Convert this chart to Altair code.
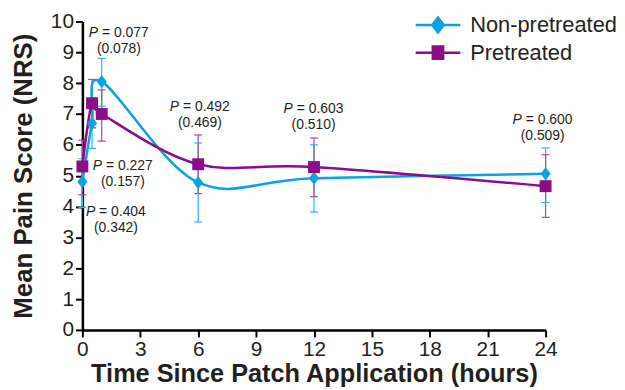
import altair as alt
import pandas as pd

# ---- data ----
hours = [0, 0.5, 1, 6, 12, 24]
series_names = ["Non-pretreated", "Pretreated"]
non_mean = [4.80, 6.70, 8.05, 4.78, 4.92, 5.06]
non_lo = [3.97, 5.88, 7.25, 3.50, 3.82, 4.13]
non_hi = [5.55, 7.50, 8.80, 6.06, 6.00, 5.90]
pre_mean = [5.30, 7.35, 7.00, 5.37, 5.28, 4.66]
pre_lo = [4.38, 6.55, 6.12, 4.42, 4.32, 3.65]
pre_hi = [6.15, 8.12, 7.78, 6.32, 6.22, 5.68]

# P-value annotations: anchor hour, anchor score, first p, second p
ann_t = [1.89, 2.10, 1.74, 6.09, 11.98, 23.85]
ann_v = [9.61, 5.32, 3.81, 7.23, 7.16, 6.81]
ann_p1 = ["0.077", "0.227", "0.404", "0.492", "0.603", "0.600"]
ann_p2 = ["0.078", "0.157", "0.342", "0.469", "0.510", "0.509"]

x_ticks = [0, 3, 6, 9, 12, 15, 18, 21, 24]
y_ticks = list(range(0, 11))

BLUE = "#0aa2e2"
PURPLE = "#8b0d88"
BLUE_ERR = "#2eb3ec"
PURPLE_ERR = "#a64aa2"
TEXT = "#231f20"
FONT = "Liberation Sans"

rows = []
for name, m, lo, hi in [("Non-pretreated", non_mean, non_lo, non_hi),
                        ("Pretreated", pre_mean, pre_lo, pre_hi)]:
    for t, a, b, c in zip(hours, m, lo, hi):
        rows.append({"series": name, "t": t, "mean": a, "lo": b, "hi": c})
df = pd.DataFrame(rows)

ann = pd.DataFrame({"t": ann_t, "v": ann_v,
                    "p1": ["= " + p for p in ann_p1],
                    "p2": ["(" + p + ")" for p in ann_p2]})

xscale = alt.Scale(domain=[0, 24], nice=False)
yscale = alt.Scale(domain=[0, 10], nice=False)
xaxis = alt.Axis(values=x_ticks, title="Time Since Patch Application (hours)", labelOverlap=False)
yaxis = alt.Axis(values=y_ticks, title="Mean Pain Score (NRS)", labelOverlap=False)


def xch(field):
    return alt.X(field, scale=xscale, axis=xaxis)


def ych(field):
    return alt.Y(field, scale=yscale, axis=yaxis)


base = alt.Chart(df)

blue_path = "M-2.25,0L2.25,0M0,-0.75L0.58,0L0,0.75L-0.58,0Z"
purple_path = "M-2.25,0L2.25,0M-0.52,-0.62L0.52,-0.62L0.52,0.62L-0.52,0.62Z"

legend = alt.Legend(
    title=None, orient="none", legendX=347, legendY=-8,
    symbolSize=400, symbolStrokeWidth=2.5, labelFontSize=22, labelFont=FONT,
    labelColor=TEXT, labelOffset=21, rowPadding=4, padding=0, symbolOpacity=1)

main_scale = alt.Scale(domain=series_names, range=[BLUE, PURPLE])

# legend-only layer: no rows pass the filter, entries come from the scale domain
legend_layer = base.transform_filter("datum.t < -100").mark_point(
    filled=True, strokeWidth=2.5, opacity=1).encode(
    x=xch("t:Q"), y=ych("mean:Q"),
    fill=alt.Fill("series:N", scale=main_scale, legend=legend),
    stroke=alt.Stroke("series:N", scale=main_scale, legend=legend),
    shape=alt.Shape("series:N", scale=alt.Scale(domain=series_names, range=[blue_path, purple_path]),
                    legend=legend))

err_color = alt.Color("series:N", scale=alt.Scale(domain=series_names, range=[BLUE_ERR, PURPLE_ERR]), legend=None)

err_rule = base.mark_rule(strokeWidth=1.2).encode(x=xch("t:Q"), y=ych("lo:Q"), y2="hi:Q", color=err_color)
cap_lo = base.mark_point(shape="stroke", size=64, strokeWidth=1.2, opacity=1).encode(
    x=xch("t:Q"), y=ych("lo:Q"), color=err_color)
cap_hi = base.mark_point(shape="stroke", size=64, strokeWidth=1.2, opacity=1).encode(
    x=xch("t:Q"), y=ych("hi:Q"), color=err_color)

lines = base.mark_line(interpolate="cardinal", strokeWidth=2.5).encode(
    x=xch("t:Q"), y=ych("mean:Q"),
    color=alt.Color("series:N", scale=main_scale, legend=None),
    detail="series:N")

pts = base.mark_point(filled=True, opacity=1, size=144).encode(
    x=xch("t:Q"), y=ych("mean:Q"),
    color=alt.Color("series:N", scale=main_scale, legend=None),
    shape=alt.Shape("series:N", scale=alt.Scale(domain=series_names,
                    range=["M0,-1.1L0.85,0L0,1.1L-0.85,0Z", "square"]), legend=None))

abase = alt.Chart(ann)
txt_p = abase.mark_text(text="P", fontStyle="italic", font=FONT, fontSize=14, color=TEXT,
                        align="right", baseline="middle", dx=-21).encode(x=xch("t:Q"), y=ych("v:Q"))
txt_1 = abase.mark_text(font=FONT, fontSize=14, color=TEXT, align="left", baseline="middle",
                        dx=-17).encode(x=xch("t:Q"), y=ych("v:Q"), text="p1:N")
txt_2 = abase.mark_text(font=FONT, fontSize=14, color=TEXT, align="center", baseline="middle",
                        dy=16).encode(x=xch("t:Q"), y=ych("v:Q"), text="p2:N")

chart = alt.layer(err_rule, cap_lo, cap_hi, lines, pts, txt_p, txt_1, txt_2, legend_layer).resolve_scale(
    color="independent", shape="independent", fill="independent", stroke="independent"
).properties(
    width=467, height=311,
    autosize=alt.AutoSizeParams(type="none"),
    padding={"left": 75, "top": 12, "right": 72, "bottom": 57},
).configure_view(stroke=None).configure_axis(
    grid=False, domainColor="black", domainWidth=2.5, tickColor="black", tickWidth=2,
    tickSize=7, labelFont=FONT, labelFontSize=21, labelColor=TEXT, labelPadding=2,
    labelOverlap=False, titleFont=FONT, titleFontWeight="bold", titleColor=TEXT,
).configure_axisX(titleFontSize=25.5, titlePadding=2, labelFlush=False
).configure_axisY(titleFontSize=26, titlePadding=14)

chart.save("out.html", embed_options={"renderer": "svg", "actions": False})
